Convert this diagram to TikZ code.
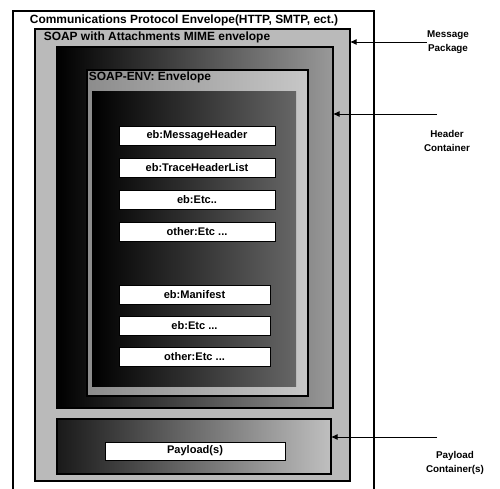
\documentclass[tikz,border=0pt]{standalone}
\usepackage{fontspec}
\setmainfont{Liberation Sans}
\usetikzlibrary{positioning,arrows.meta}

\tikzset{
  itembox/.style={draw=black, fill=white, line width=0.4pt, minimum height=0.38cm, inner sep=0pt, font=\fontsize{6.3}{7}\selectfont\bfseries},
  sidelbl/.style={align=center, inner sep=0pt, font=\fontsize{5.6}{7.6}\selectfont\bfseries},
  boxlbl/.style={inner sep=0pt, text=black, font=\fontsize{6.8}{7.5}\selectfont\bfseries},
  pointer/.style={line width=0.5pt, -{Latex[length=1.3mm,width=1.2mm]}}
}

\begin{document}
\begin{tikzpicture}[x=0.02cm, y=-0.02cm]
    \useasboundingbox (0,0) rectangle (500,489);
    % protocol envelope, open at the bottom
    \draw[black, line width=0.6pt] (13,489) -- (13,11) -- (374,11) -- (374,489);
    \node[boxlbl] (envtitle) at (184,20) {Communications Protocol Envelope(HTTP, SMTP, ect.)};
    % message package
    \filldraw[line width=0.8pt, fill=black!27] (35,29) rectangle (350,481);
    \node[boxlbl] (mimeenv) at (157,37) {SOAP with Attachments MIME envelope};
    % header container (mime part)
    \draw[line width=0.8pt, left color=black, middle color=black!85, right color=black!40] (57,47) rectangle (333,408);
    \draw[line width=0.6pt, left color=black!45, right color=black!22] (87,70) rectangle (308,396);
    \node[boxlbl] (soapenv) at (150,77) {SOAP-ENV: Envelope};
    \fill[left color=black, middle color=black, right color=black!60] (92,92) rectangle (296,386);
    % header entries
    \node[itembox, minimum width=3.12cm] (msghdr) at (197,135.5) {eb:MessageHeader};
    \node[itembox, minimum width=3.12cm] (trace) at (197,167.5) {eb:TraceHeaderList};
    \node[itembox, minimum width=3.12cm] (ebetca) at (197,199.5) {eb:Etc..};
    \node[itembox, minimum width=3.12cm] (otheta) at (197,231.5) {other:Etc ...};
    % body entries
    \node[itembox, minimum width=3.02cm] (manif) at (194.5,294.5) {eb:Manifest};
    \node[itembox, minimum width=3.02cm] (ebetcb) at (194.5,326) {eb:Etc ...};
    \node[itembox, minimum width=3.02cm] (othetb) at (194.5,356.5) {other:Etc ...};
    % payload container
    \draw[line width=0.8pt, left color=black!90, middle color=black!45, right color=black!25] (57,419) rectangle (331,474);
    \node[itembox, minimum width=3.6cm, minimum height=0.36cm] (payload) at (195,451) {Payload(s)};
    % side labels
    \node[sidelbl] (msglbl) at (448,42) {Message\\Package};
    \node[sidelbl] (hdrlbl) at (447,141) {Header\\Container};
    \node[sidelbl] (paylbl) at (455,463) {Payload\\Container(s)};
    \coordinate (msgtip) at (350,42);
    \coordinate (hdrend) at (437,114);
    \coordinate (hdrtip) at (333,114);
    \coordinate (payend) at (437,437);
    \coordinate (paytip) at (331,437);
    \draw[pointer] (msglbl.west) -- (msgtip);
    \draw[pointer] (hdrend) -- (hdrtip);
    \draw[pointer] (payend) -- (paytip);
  \end{tikzpicture}
\end{document}
